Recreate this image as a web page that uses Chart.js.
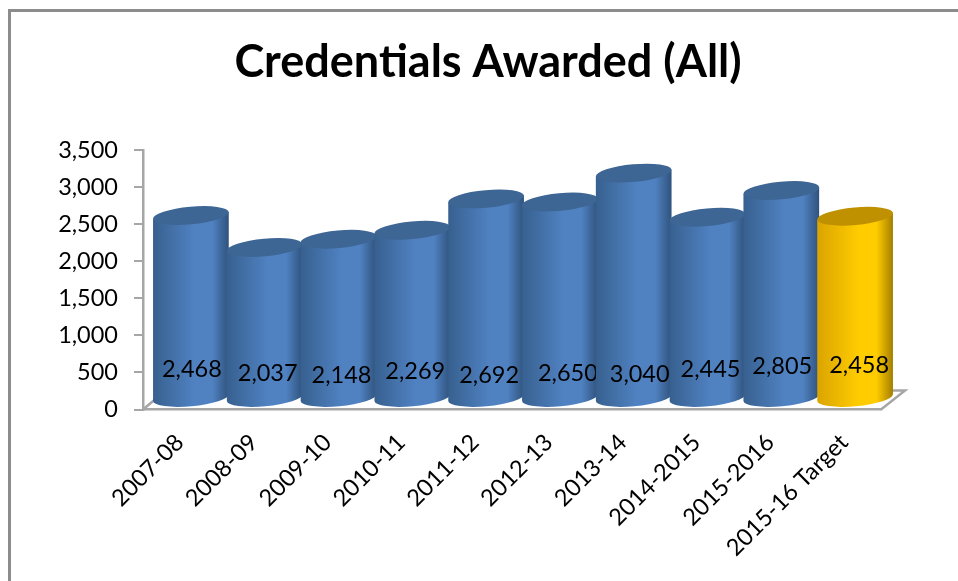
<!DOCTYPE html>
<html>
<head>
<meta charset="utf-8">
<title>Credentials Awarded (All)</title>
<script src="https://cdn.jsdelivr.net/npm/chart.js@4"></script>
<style>
    html, body { margin: 0; padding: 0; background: #fff; overflow: hidden; }
    #marco { position: absolute; left: 8px; top: 9px; width: 950px; height: 572px;
             border-left: 3px solid #8c8c8c; border-top: 3px solid #8c8c8c; box-sizing: border-box; }
    #contenedor { position: absolute; left: 0; top: 0; width: 958px; height: 581px; }
</style>
</head>
<body>
<div id="contenedor"><canvas id="grafica" width="958" height="581"></canvas></div>
<div id="marco"></div>
<script>
// Datos
const categories = ['2007-08', '2008-09', '2009-10', '2010-11', '2011-12', '2012-13', '2013-14', '2014-2015', '2015-2016', '2015-16 Target'];
const awarded = [2468, 2037, 2148, 2269, 2692, 2650, 3040, 2445, 2805, 2458];
const yTicks = [0, 500, 1000, 1500, 2000, 2500, 3000, 3500];

// Ajustes manuales de las etiquetas (estaban movidas a mano en el original)
const labelNudgeX = [1, 3, 3, 3, 3, 8, 6, 3, 1, 4];
const labelNudgeY = [-28, -24, -22, -26, -22, -24, -23, -28, -31, -32];

const BLUE = { edgeL: '#37608f', mid: '#5082c2', edgeR: '#2f527c', top: '#3e6694' };
const GOLD = { edgeL: '#dba400', mid: '#ffcc00', edgeR: '#a37d00', top: '#bf9000' };

// Profundidad del efecto 3D
const DEPTH = 11;
const FLOOR_DX = 24;
const FLOOR_DY = 19;
const TILT = -0.09;
const MINOR = 8.8;

// Suelo y pequena diagonal del eje, por debajo de las barras
const floorPlugin = {
    id: 'floor',
    beforeDatasetsDraw(chart) {
        const { ctx, chartArea: a } = chart;
        ctx.save();
        ctx.strokeStyle = '#a6a6a6';
        ctx.lineWidth = 2.5;
        ctx.beginPath();
        ctx.moveTo(a.right, a.bottom);
        ctx.lineTo(a.right + FLOOR_DX, a.bottom - FLOOR_DY);
        ctx.lineTo(a.right + FLOOR_DX - 18, a.bottom - FLOOR_DY);
        ctx.moveTo(a.left, a.bottom);
        ctx.lineTo(a.left + 12, a.bottom - 10);
        ctx.stroke();
        ctx.restore();
    }
};

// Dibuja cada barra como cilindro usando la posicion que da Chart.js
const cylinderPlugin = {
    id: 'cylinder',
    afterDatasetsDraw(chart) {
        const { ctx } = chart;
        const bars = chart.getDatasetMeta(0).data;
        bars.forEach((bar, i) => {
            const colors = categories[i].includes('Target') ? GOLD : BLUE;
            const cx = bar.x + DEPTH;
            const top = bar.y - DEPTH;
            const bottom = bar.base - DEPTH;
            const rx = bar.width / 2;
            const ex = rx * Math.cos(TILT);
            const ey = rx * Math.sin(TILT);

            const grad = ctx.createLinearGradient(cx - rx, 0, cx + rx, 0);
            grad.addColorStop(0, colors.edgeL);
            grad.addColorStop(0.55, colors.mid);
            grad.addColorStop(0.78, colors.mid);
            grad.addColorStop(1, colors.edgeR);

            ctx.save();
            ctx.fillStyle = grad;
            ctx.beginPath();
            ctx.moveTo(cx - ex, top - ey);
            ctx.lineTo(cx - ex, bottom - ey);
            ctx.ellipse(cx, bottom, rx, MINOR, TILT, Math.PI, 0, true);
            ctx.lineTo(cx + ex, top + ey);
            ctx.closePath();
            ctx.fill();

            ctx.fillStyle = colors.top;
            ctx.beginPath();
            ctx.ellipse(cx, top, rx, MINOR, TILT, 0, Math.PI * 2);
            ctx.fill();

            ctx.fillStyle = '#000';
            ctx.font = '23.5px Lato';
            ctx.textAlign = 'center';
            ctx.textBaseline = 'middle';
            ctx.fillText(awarded[i].toLocaleString('en-US'), cx + labelNudgeX[i], bottom + labelNudgeY[i]);
            ctx.restore();
        });
    }
};

const ctx = document.getElementById('grafica').getContext('2d');

new Chart(ctx, {
    type: 'bar',
    data: {
        labels: categories,
        datasets: [{
            label: 'Credentials Awarded',
            data: awarded,
            yAxisID: 'y',
            backgroundColor: 'rgba(0,0,0,0)',
            borderWidth: 0,
            barPercentage: 1.03,
            categoryPercentage: 1
        }]
    },
    options: {
        responsive: false,
        animation: false,
        layout: { padding: { left: 18, right: 0, top: 0, bottom: 0 } },
        plugins: {
            legend: { display: false },
            tooltip: { enabled: false },
            title: {
                display: true,
                text: 'Credentials Awarded (All)',
                color: '#000',
                font: { family: 'Lato', size: 45, weight: 'bold', lineHeight: 1.2 },
                padding: { top: 35, bottom: 61 }
            }
        },
        scales: {
            x: {
                afterFit(scale) { scale.height = 171.5; scale.paddingLeft = 0; scale.paddingRight = 0; },
                grid: { display: false },
                border: { color: '#a6a6a6', width: 2.5 },
                ticks: {
                    color: '#000',
                    font: { family: 'Lato', size: 23.5 },
                    minRotation: 45,
                    maxRotation: 45,
                    autoSkip: false,
                    padding: 11
                }
            },
            y: {
                min: 0,
                max: yTicks[yTicks.length - 1],
                afterFit(scale) { scale.width = 125; },
                afterBuildTicks(scale) { scale.ticks = yTicks.map(v => ({ value: v })); },
                grid: { drawOnChartArea: false, drawTicks: true, tickLength: 9, color: '#a6a6a6', lineWidth: 2 },
                border: { color: '#a6a6a6', width: 2.5 },
                ticks: {
                    color: '#000',
                    font: { family: 'Lato', size: 23.5 },
                    padding: 16,
                    callback: v => v.toLocaleString('en-US')
                }
            },
            // Eje vacio a la derecha: reserva el hueco sin descentrar el titulo
            hueco: {
                position: 'right',
                afterFit(scale) { scale.width = 77; },
                grid: { display: false },
                border: { display: false },
                ticks: { display: false }
            }
        }
    },
    plugins: [floorPlugin, cylinderPlugin]
});
</script>
</body>
</html>
